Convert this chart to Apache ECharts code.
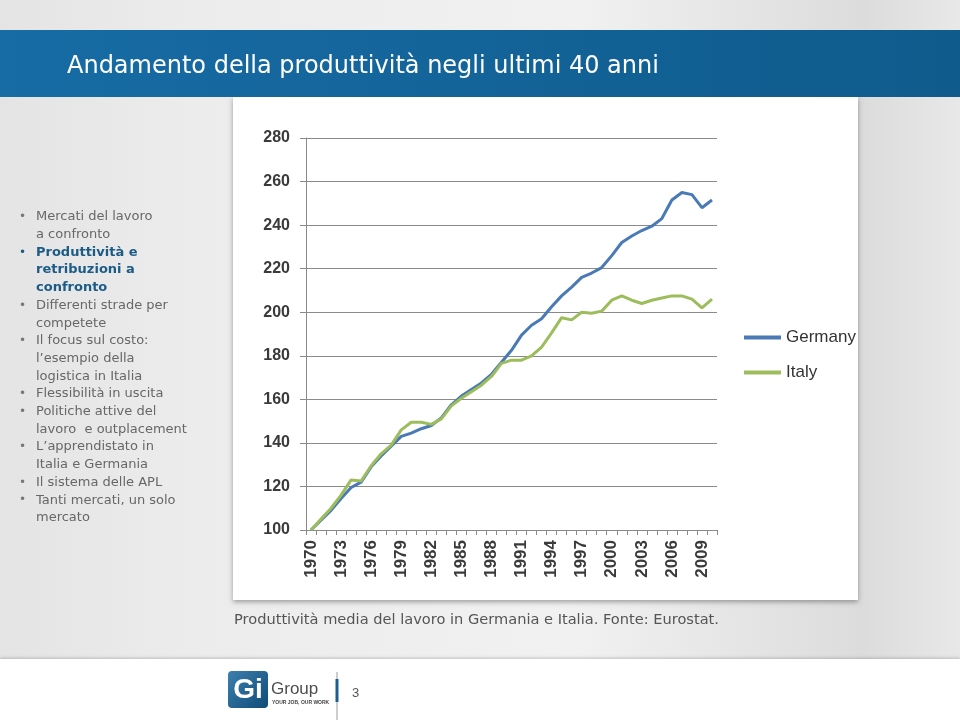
<!DOCTYPE html>
<html>
<head>
<meta charset="utf-8">
<script src="https://cdn.jsdelivr.net/npm/echarts@6/dist/echarts.min.js"></script>
<style>
html,body{margin:0;padding:0;background:#e9e9e9;}
#chart{width:960px;height:720px;}
</style>
</head>
<body>
<div id="chart"></div>
<script>
const years = ['1970','1971','1972','1973','1974','1975','1976','1977','1978','1979',
  '1980','1981','1982','1983','1984','1985','1986','1987','1988','1989',
  '1990','1991','1992','1993','1994','1995','1996','1997','1998','1999',
  '2000','2001','2002','2003','2004','2005','2006','2007','2008','2009','2010'];
const germany = [100,104.5,109,114.5,119.5,122,129,134,138.5,143,
  144.5,146.5,148,151.5,157.5,161.5,164.5,167.5,171.5,177,
  182.5,189.5,194,197,202.5,207.5,211.5,216,218,220.5,
  226,232,235,237.5,239.5,243,251.5,255,254,248,251.5];
const italy = [100,105,110,116,123,122.5,129.5,135,139,146,
  149.5,149.5,148.5,151,157,160.5,163.5,166.5,170.5,176.5,
  178,178,180,184,190.5,197.5,196.5,200,199.5,200.5,
  205.5,207.5,205.5,204,205.5,206.5,207.5,207.5,206,202,206];
const seriesNames = ['Germany','Italy'];
const title = 'Andamento della produttività negli ultimi 40 anni';
const caption = 'Produttività media del lavoro in Germania e Italia. Fonte: Eurostat.';
const sidebar = [
  ['Mercati del lavoro', true, false], ['a confronto', false, false],
  ['Produttività e', true, true], ['retribuzioni a', false, true], ['confronto', false, true],
  ['Differenti strade per', true, false], ['competete', false, false],
  ['Il focus sul costo:', true, false], ['l\u2019esempio della', false, false], ['logistica in Italia', false, false],
  ['Flessibilità in uscita', true, false],
  ['Politiche attive del', true, false], ['lavoro  e outplacement', false, false],
  ['L\u2019apprendistato in', true, false], ['Italia e Germania', false, false],
  ['Il sistema delle APL', true, false],
  ['Tanti mercati, un solo', true, false], ['mercato', false, false]
];
const pageNumber = '3';

const FONT = '"Liberation Sans", Arial, sans-serif';
const SLIDE = '"DejaVu Sans", Verdana, sans-serif';
const graphics = [];
// slide background
graphics.push({type:'rect', z:-30, shape:{x:0,y:0,width:960,height:720},
  style:{fill:new echarts.graphic.LinearGradient(0,0,1,0,[
    {offset:0,color:'#e4e4e4'},{offset:0.2,color:'#ececec'},{offset:0.6,color:'#f1f1f1'},
    {offset:0.9,color:'#dcdcdc'},{offset:1,color:'#e8e8e8'}])}});
// header
graphics.push({type:'rect', z:-5, shape:{x:0,y:30,width:960,height:67},
  style:{fill:new echarts.graphic.LinearGradient(0,0,1,0,[
    {offset:0,color:'#176ca5'},{offset:1,color:'#0f5b8c'}])}});
graphics.push({type:'text', z:1, x:67, y:67, style:{text:title, fill:'#ffffff',
  font:'24px '+SLIDE, verticalAlign:'middle'}});
// chart panel
graphics.push({type:'rect', z:-10, shape:{x:233,y:97,width:625,height:503},
  style:{fill:'#ffffff', shadowBlur:5, shadowColor:'rgba(0,0,0,0.35)', shadowOffsetY:2}});
// sidebar
sidebar.forEach(function(l, i){
  const y = 217 + i*17.7;
  const col = l[2] ? '#1b5b86' : '#676767';
  const w = l[2] ? 'bold ' : '';
  if (l[1]) graphics.push({type:'text', x:19, y:y, style:{text:'\u2022', fill:l[2]?'#1b5b86':'#777', font:'12px '+SLIDE, verticalAlign:'middle'}});
  graphics.push({type:'text', x:36, y:y, style:{text:l[0], fill:col, font:w+'13px '+SLIDE, verticalAlign:'middle'}});
});
// caption
graphics.push({type:'text', x:234, y:620, style:{text:caption, fill:'#555555', font:'14.6px '+SLIDE, verticalAlign:'middle'}});
// footer
graphics.push({type:'rect', z:-5, shape:{x:0,y:659,width:960,height:61},
  style:{fill:'#ffffff', shadowBlur:3, shadowColor:'rgba(0,0,0,0.2)', shadowOffsetY:-1}});
graphics.push({type:'rect', shape:{x:228,y:671,width:40,height:37,r:4},
  style:{fill:new echarts.graphic.LinearGradient(0,0,1,1,[
    {offset:0,color:'#3d7fae'},{offset:1,color:'#0f4c77'}])}});
graphics.push({type:'text', x:248, y:690, style:{text:'Gi', fill:'#ffffff', font:'bold 28px '+FONT, align:'center', verticalAlign:'middle'}});
graphics.push({type:'text', x:271, y:689, style:{text:'Group', fill:'#4d4d4d', font:'17px '+FONT, verticalAlign:'middle'}});
graphics.push({type:'text', x:272, y:703, style:{text:'YOUR JOB, OUR WORK', fill:'#444444', font:'bold 5px '+FONT, verticalAlign:'middle'}});
graphics.push({type:'line', shape:{x1:337,y1:672,x2:337,y2:720}, style:{stroke:'#9a9a9a', lineWidth:1}});
graphics.push({type:'line', shape:{x1:337,y1:679,x2:337,y2:702}, style:{stroke:'#1c5f8f', lineWidth:3}});
graphics.push({type:'text', x:352, y:693, style:{text:pageNumber, fill:'#555555', font:'13px '+FONT, verticalAlign:'middle'}});

const chart = echarts.init(document.getElementById('chart'), null, {renderer:'canvas'});
chart.setOption({
  animation:false,
  backgroundColor:'transparent',
  graphic: graphics,
  grid:{left:306, right:243, top:138, bottom:190, outerBoundsMode:'none'},
  legend:{data:seriesNames, orient:'vertical', left:744, top:329, itemWidth:37, itemHeight:4,
    icon:'rect', itemGap:18, padding:0,
    textStyle:{fontSize:17, color:'#333333', fontFamily:FONT}},
  xAxis:{type:'category', data:years, boundaryGap:true,
    axisLine:{lineStyle:{color:'#8a8a8a', width:1}},
    axisTick:{show:true, interval:0, length:5, lineStyle:{color:'#8a8a8a'}},
    axisLabel:{interval:2, rotate:90, fontSize:17, color:'#3a3a3a', fontFamily:FONT, margin:10, fontWeight:'bold'}},
  yAxis:{type:'value', min:100, max:280, interval:20,
    axisLine:{show:true, lineStyle:{color:'#8a8a8a', width:1}},
    axisTick:{show:true, length:6, lineStyle:{color:'#8a8a8a'}},
    splitLine:{lineStyle:{color:'#8a8a8a', width:1}},
    axisLabel:{fontSize:16, color:'#3a3a3a', fontFamily:FONT, margin:16, fontWeight:'bold'}},
  series:[
    {name:seriesNames[0], type:'line', data:germany, symbol:'none', smooth:false,
      lineStyle:{color:'#4a7ab5', width:3}, itemStyle:{color:'#4a7ab5'}, z:3},
    {name:seriesNames[1], type:'line', data:italy, symbol:'none', smooth:false,
      lineStyle:{color:'#9dbd5c', width:3}, itemStyle:{color:'#9dbd5c'}, z:4}
  ]
});
</script>
</body>
</html>
